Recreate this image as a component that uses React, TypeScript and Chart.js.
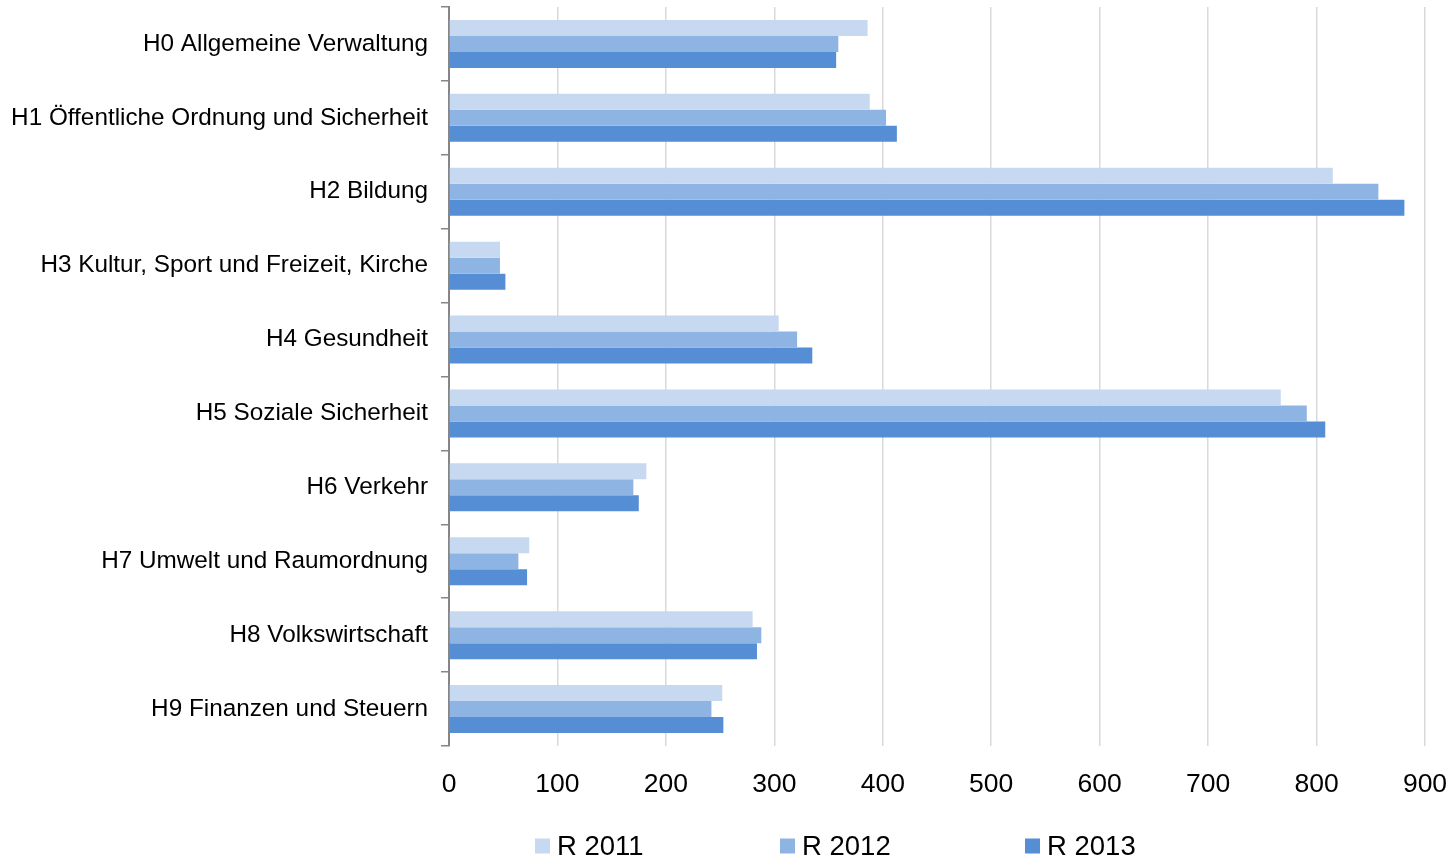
import React, { useEffect, useRef } from "react";
import { Chart, registerables } from "chart.js";

Chart.register(...registerables);

const categories = [
  "H0 Allgemeine Verwaltung",
  "H1 Öffentliche Ordnung und Sicherheit",
  "H2 Bildung",
  "H3 Kultur, Sport und Freizeit, Kirche",
  "H4 Gesundheit",
  "H5 Soziale Sicherheit",
  "H6 Verkehr",
  "H7 Umwelt und Raumordnung",
  "H8 Volkswirtschaft",
  "H9 Finanzen und Steuern",
];

const r2011 = [386, 388, 815, 47, 304, 767, 182, 74, 280, 252];
const r2012 = [359, 403, 857, 47, 321, 791, 170, 64, 288, 242];
const r2013 = [357, 413, 881, 52, 335, 808, 175, 72, 284, 253];

const xTicks = [0, 100, 200, 300, 400, 500, 600, 700, 800, 900];

const seriesNames = ["R 2011", "R 2012", "R 2013"];
const seriesColors = ["#C6D9F1", "#8EB4E3", "#558ED5"];

const FONT = "'Liberation Sans', Arial, sans-serif";

const legendPlugin = {
  id: "bottomLegend",
  afterDraw(chart: any) {
    const ctx = chart.ctx;
    ctx.save();
    ctx.font = `27.5px ${FONT}`;
    ctx.textBaseline = "middle";
    ctx.textAlign = "left";
    const y = 846;
    chart.data.datasets.forEach((ds: any, i: number) => {
      const x = 535 + i * 245;
      ctx.fillStyle = ds.backgroundColor;
      ctx.fillRect(x, y - 7.5, 15, 15);
      ctx.fillStyle = "#000";
      ctx.fillText(ds.label, x + 22, y + 1);
    });
    ctx.restore();
  },
};

export default function App() {
  const ref = useRef<HTMLCanvasElement>(null);
  useEffect(() => {
    document.body.style.margin = "0";
    const chart = new Chart(ref.current!, {
      type: "bar",
      data: {
        labels: categories,
        datasets: [r2011, r2012, r2013].map((d, i) => ({
          label: seriesNames[i],
          data: d,
          backgroundColor: seriesColors[i],
          borderWidth: 0,
          categoryPercentage: 0.65,
          barPercentage: 1,
        })),
      },
      options: {
        indexAxis: "y",
        animation: false,
        responsive: false,
        maintainAspectRatio: false,
        layout: { padding: { left: 0, right: 30, top: 7, bottom: 0 } },
        plugins: {
          legend: { display: false },
          tooltip: { enabled: false },
        },
        scales: {
          x: {
            min: xTicks[0],
            max: xTicks[xTicks.length - 1],
            afterBuildTicks: (scale: any) => {
              scale.ticks = xTicks.map((v) => ({ value: v }));
            },
            afterFit: (scale: any) => {
              scale.paddingLeft = 0;
              scale.paddingRight = 0;
              scale.height = 113;
            },
            ticks: {
              color: "#000",
              font: { family: FONT, size: 26.5 },
              padding: 23,
            },
            grid: { color: "#D9D9D9", lineWidth: 1.5, drawTicks: false },
            border: { display: false },
          },
          y: {
            afterFit: (scale: any) => {
              scale.paddingTop = 0;
              scale.paddingBottom = 0;
              scale.width = 449;
            },
            ticks: {
              color: "#000",
              font: { family: FONT, size: 24.3 },
              padding: 13,
            },
            grid: {
              drawOnChartArea: false,
              color: "#868686",
              tickLength: 8,
              lineWidth: 1.5,
            },
            border: { display: true, color: "#868686", width: 2 },
          },
        },
      },
      plugins: [legendPlugin],
    });
    return () => chart.destroy();
  }, []);
  return (
    <div style={{ position: "relative", width: 1455, height: 859 }}>
      <canvas ref={ref} width={1455} height={859} style={{ display: "block" }} />
    </div>
  );
}
